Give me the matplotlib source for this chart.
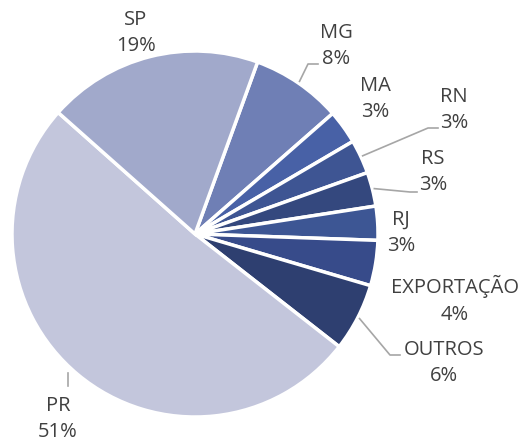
import numpy as np
import matplotlib.pyplot as plt

# dados (ordem no sentido horário a partir do topo)
estados = ["MG", "MA", "RN", "RS", "RJ", "EXPORTAÇÃO", "OUTROS", "PR", "SP"]
valores = [8, 3, 3, 3, 3, 4, 6, 51, 19]
cores = ["#6f7fb5", "#4861a6", "#3e5593", "#34487e", "#3d5694", "#374b8a", "#2e3f70", "#c3c6dc", "#a1a9cb"]

# posição dos rótulos (px) e cotovelo da linha de chamada
rotulos_pos = {
    "MG": (336, 46), "MA": (375, 99), "RN": (454, 110), "RS": (433, 172),
    "RJ": (401, 233), "EXPORTAÇÃO": (455, 300), "OUTROS": (444, 363),
    "PR": (58, 419), "SP": (136, 33),
}
chamadas = {
    "MG": ((308, 64), (318, 64)),
    "RN": ((428, 128), (438, 128)),
    "RS": ((410, 192), (417, 192)),
    "OUTROS": ((390, 355), (400, 355)),
}

W, H = 520, 443
cx, cy, R = 195, 234, 183

fig = plt.figure(figsize=(W / 100, H / 100), dpi=100)
ax = fig.add_axes([0, 0, 1, 1])

# eixo y invertido: counterclock=True fica horário na tela
wedges, _ = ax.pie(valores, colors=cores, center=(cx, cy), radius=R,
                   startangle=-70, counterclock=True, frame=True,
                   wedgeprops=dict(edgecolor="white", linewidth=2.5))
ax.set_xlim(0, W)
ax.set_ylim(H, 0)
ax.set_aspect("equal")
ax.axis("off")

cor_linha = "#a6a6a6"
total = sum(valores)
for w, nome, v in zip(wedges, estados, valores):
    x, y = rotulos_pos[nome]
    ax.text(x, y, f"{nome}\n{v / total:.0%}", ha="center", va="center",
            fontsize=14.5, color="#404040", family="Open Sans", linespacing=1.42)
    if nome in chamadas:
        ang = np.deg2rad((w.theta1 + w.theta2) / 2)
        x0 = cx + (R + 2) * np.cos(ang)
        y0 = cy + (R + 2) * np.sin(ang)
        (xc, yc), (xe, ye) = chamadas[nome]
        ax.plot([x0, xc, xe], [y0, yc, ye], color=cor_linha, lw=1.2)
    if nome == "PR":
        ax.plot([68, 68], [373, 386], color=cor_linha, lw=1.2)

fig.savefig("out.png", dpi=100)
